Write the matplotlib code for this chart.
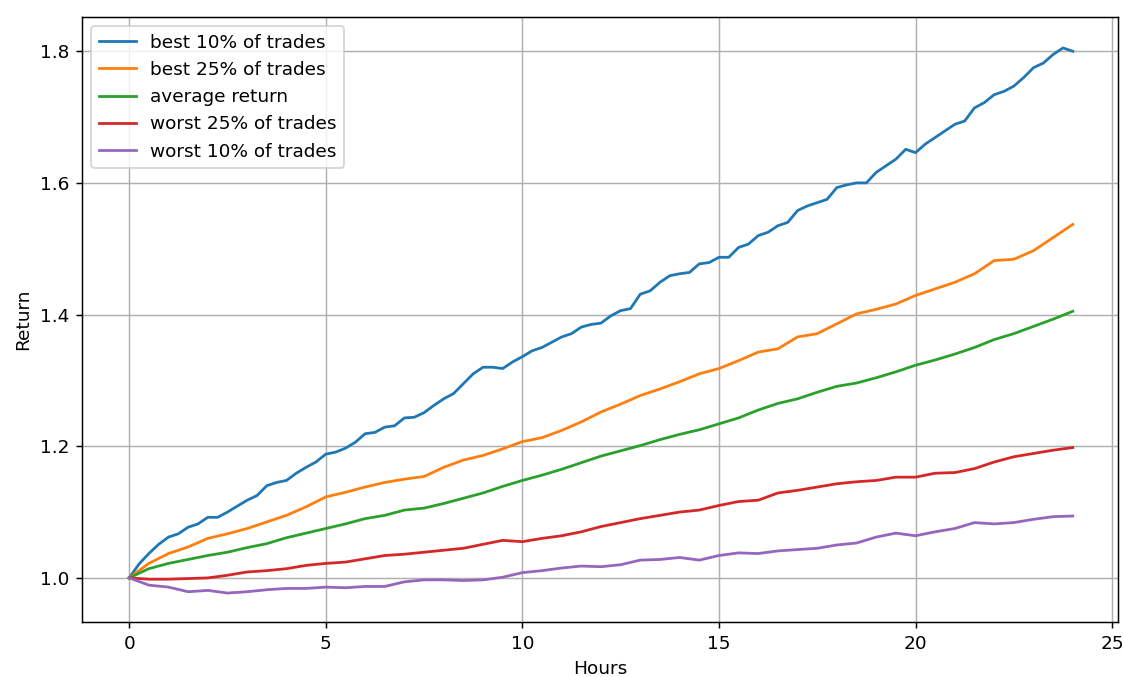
import matplotlib
matplotlib.use("Agg")
import matplotlib.pyplot as plt

# Hours since trade entry: quarter hours for the noisy top line, half hours for the rest
hours_fine = [i * 0.25 for i in range(97)]
hours = [i * 0.5 for i in range(49)]

# Returns
best_10 = [1.000, 1.021, 1.037, 1.051, 1.062, 1.067, 1.077, 1.082, 1.092, 1.092,
           1.100, 1.109, 1.118, 1.125, 1.140, 1.145, 1.148, 1.159, 1.168, 1.176,
           1.188, 1.191, 1.197, 1.206, 1.219, 1.221, 1.229, 1.231, 1.243, 1.244,
           1.251, 1.262, 1.272, 1.280, 1.295, 1.310, 1.320, 1.320, 1.318, 1.328,
           1.336, 1.345, 1.350, 1.358, 1.366, 1.371, 1.381, 1.385, 1.387, 1.398,
           1.406, 1.409, 1.431, 1.436, 1.449, 1.459, 1.462, 1.464, 1.477, 1.479,
           1.487, 1.487, 1.502, 1.507, 1.520, 1.525, 1.535, 1.540, 1.558, 1.565,
           1.570, 1.575, 1.593, 1.597, 1.600, 1.600, 1.616, 1.626, 1.636, 1.651,
           1.646, 1.659, 1.669, 1.679, 1.689, 1.694, 1.714, 1.722, 1.734, 1.739,
           1.747, 1.760, 1.775, 1.782, 1.795, 1.805, 1.800]
best_25 = [1.000, 1.022, 1.037, 1.047, 1.060, 1.067, 1.075, 1.085, 1.095, 1.108,
           1.123, 1.130, 1.138, 1.145, 1.150, 1.154, 1.168, 1.179, 1.186, 1.196,
           1.207, 1.213, 1.224, 1.237, 1.252, 1.264, 1.277, 1.287, 1.298, 1.310,
           1.318, 1.330, 1.343, 1.348, 1.366, 1.371, 1.386, 1.401, 1.408, 1.416,
           1.429, 1.439, 1.449, 1.462, 1.482, 1.484, 1.497, 1.517, 1.537]
average = [1.000, 1.014, 1.022, 1.028, 1.034, 1.039, 1.046, 1.052, 1.061, 1.068,
           1.075, 1.082, 1.090, 1.095, 1.103, 1.106, 1.113, 1.121, 1.129, 1.139,
           1.148, 1.156, 1.165, 1.175, 1.185, 1.193, 1.201, 1.210, 1.218, 1.225,
           1.234, 1.243, 1.255, 1.265, 1.272, 1.282, 1.291, 1.296, 1.304, 1.313,
           1.323, 1.331, 1.340, 1.350, 1.362, 1.371, 1.382, 1.393, 1.405]
worst_25 = [1.000, 0.998, 0.998, 0.999, 1.000, 1.004, 1.009, 1.011, 1.014, 1.019,
            1.022, 1.024, 1.029, 1.034, 1.036, 1.039, 1.042, 1.045, 1.051, 1.057,
            1.055, 1.060, 1.064, 1.070, 1.078, 1.084, 1.090, 1.095, 1.100, 1.103,
            1.110, 1.116, 1.118, 1.129, 1.133, 1.138, 1.143, 1.146, 1.148, 1.153,
            1.153, 1.159, 1.160, 1.166, 1.176, 1.184, 1.189, 1.194, 1.198]
worst_10 = [1.000, 0.989, 0.986, 0.979, 0.981, 0.977, 0.979, 0.982, 0.984, 0.984,
            0.986, 0.985, 0.987, 0.987, 0.994, 0.997, 0.997, 0.996, 0.997, 1.001,
            1.008, 1.011, 1.015, 1.018, 1.017, 1.020, 1.027, 1.028, 1.031, 1.027,
            1.034, 1.038, 1.037, 1.041, 1.043, 1.045, 1.050, 1.053, 1.062, 1.068,
            1.064, 1.070, 1.075, 1.084, 1.082, 1.084, 1.089, 1.093, 1.094]

series = [
    (hours_fine, best_10, "best 10% of trades"),
    (hours, best_25, "best 25% of trades"),
    (hours, average, "average return"),
    (hours, worst_25, "worst 25% of trades"),
    (hours, worst_10, "worst 10% of trades"),
]

fig = plt.figure(figsize=(1123 / 133, 677 / 133), dpi=133)
ax = fig.add_axes([82 / 1123, 55 / 677, 1036 / 1123, 605 / 677])

for x, values, label in series:
    ax.plot(x, values, label=label)

ax.set_xlim(-1.2, 25.15)
ax.set_ylim(0.933, 1.852)
ax.set_xlabel("Hours")
ax.set_ylabel("Return")
ax.grid(True)
ax.legend(loc="upper left")

fig.savefig("out.png", dpi=133)
